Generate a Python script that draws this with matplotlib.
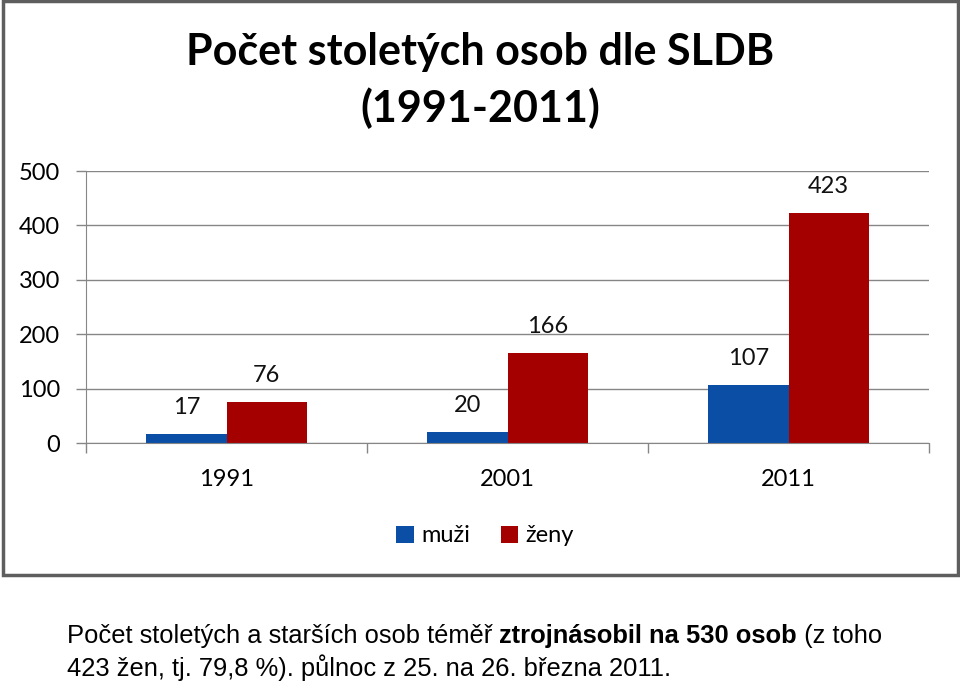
import matplotlib
matplotlib.use("Agg")
import matplotlib.pyplot as plt
import matplotlib.patches as patches
from matplotlib import font_manager
import numpy as np

years = ["1991", "2001", "2011"]
muzi = [17, 20, 107]
zeny = [76, 166, 423]
series_names = ["muži", "ženy"]
yticks = [0, 100, 200, 300, 400, 500]

blue = "#0b4ea6"
red = "#a50000"

chart_font = "Lato"
names = {f.name for f in font_manager.fontManager.ttflist}
cap_font = "Liberation Sans Narrow" if "Liberation Sans Narrow" in names else "Liberation Sans"

W, H = 960, 683
fig = plt.figure(figsize=(W / 100, H / 100), dpi=100)

def fx(px):
    return px / W

def fy(py):
    return 1 - py / H

# frame round the chart
fig.patches.append(patches.Rectangle((fx(3), fy(575)), fx(955), 574 / H, transform=fig.transFigure,
                                     fill=False, edgecolor="#5e5e5e", linewidth=2.5))

ax = fig.add_axes([fx(86), fy(443), fx(929 - 86), (443 - 171) / H])
x = np.arange(len(years))
bw = 0.285
ax.bar(x - bw / 2, muzi, bw, color=blue, label=series_names[0])
ax.bar(x + bw / 2, zeny, bw, color=red, label=series_names[1])

for i in range(len(years)):
    ax.annotate(str(muzi[i]), (x[i] - bw / 2, muzi[i]), xytext=(0, 19), textcoords="offset points",
                ha="center", va="center", fontsize=17, family=chart_font, color="#111111")
    ax.annotate(str(zeny[i]), (x[i] + bw / 2, zeny[i]), xytext=(0, 19), textcoords="offset points",
                ha="center", va="center", fontsize=17, family=chart_font, color="#111111")

ax.set_xlim(-0.5, 2.5)
ax.set_ylim(0, 500)
ax.set_yticks(yticks)
ax.set_yticklabels([str(v) for v in yticks], fontsize=17, family=chart_font)
ax.set_xticks(x)
ax.set_xticklabels(years, fontsize=17, family=chart_font)
ax.set_xticks([-0.5, 0.5, 1.5, 2.5], minor=True)
ax.tick_params(axis="x", which="major", length=0, pad=19)
ax.tick_params(axis="x", which="minor", length=7, width=1, color="#868686", direction="out")
ax.tick_params(axis="y", length=7, width=1, color="#868686", pad=11.5)
ax.grid(axis="y", color="#868686", linewidth=1)
ax.set_axisbelow(True)
for s in ["top", "right"]:
    ax.spines[s].set_visible(False)
for s in ["left", "bottom"]:
    ax.spines[s].set_color("#868686")

fig.text(0.5, fy(52), "Počet stoletých osob dle SLDB", ha="center", va="center",
         fontsize=31, fontweight="bold", family=chart_font)
fig.text(0.5, fy(108), "(1991-2011)", ha="center", va="center",
         fontsize=31, fontweight="bold", family=chart_font)

fig.legend(loc="center", bbox_to_anchor=(fx(485), fy(536)), ncol=2, frameon=False,
           prop={"family": chart_font, "size": 17}, handlelength=0.75, handleheight=0.75,
           handletextpad=0.3, columnspacing=1.3)

# caption under the frame, partly bold
renderer = fig.canvas.get_renderer()
parts = [("Počet stoletých a starších osob téměř ", "normal"),
         ("ztrojnásobil na 530 osob", "bold"),
         (" (z toho", "normal")]
xpos = fx(67)
for txt, wt in parts:
    t = fig.text(xpos, fy(636), txt, ha="left", va="center", fontsize=18.4, fontweight=wt, family=cap_font)
    bb = t.get_window_extent(renderer)
    xpos += bb.width / W
fig.text(fx(67), fy(668), "423 žen, tj. 79,8 %). půlnoc z 25. na 26. března 2011.", ha="left", va="center",
         fontsize=18.4, family=cap_font)

fig.savefig("out.png", dpi=100)
